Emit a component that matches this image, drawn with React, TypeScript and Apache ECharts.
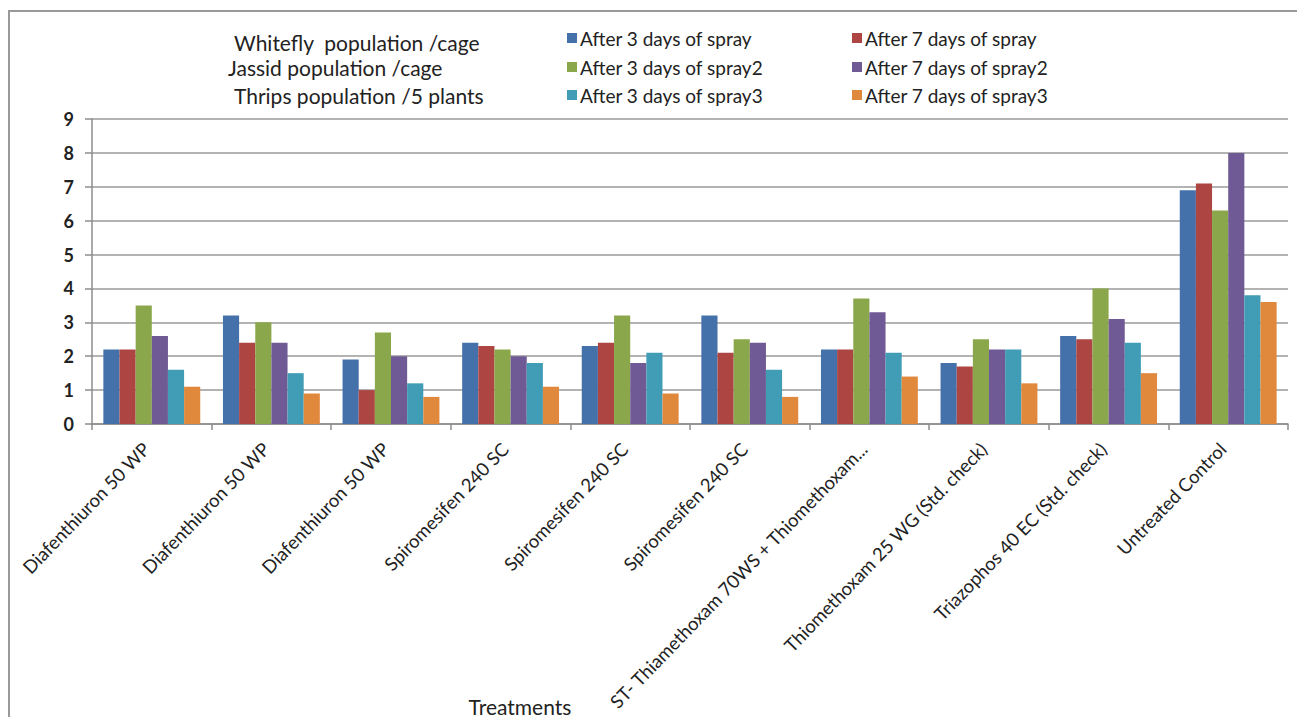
import React, { useEffect, useRef } from "react";
import * as echarts from "echarts";

const categories = [
  "Diafenthiuron 50 WP",
  "Diafenthiuron 50 WP",
  "Diafenthiuron 50 WP",
  "Spiromesifen 240 SC",
  "Spiromesifen 240 SC",
  "Spiromesifen 240 SC",
  "ST- Thiamethoxam 70WS + Thiomethoxam...",
  "Thiomethoxam 25 WG (Std. check)",
  "Triazophos 40 EC (Std. check)",
  "Untreated Control",
];

const seriesNames = [
  "After 3 days of spray",
  "After 7 days of spray",
  "After 3 days of spray2",
  "After 7 days of spray2",
  "After 3 days of spray3",
  "After 7 days of spray3",
];

const whitefly3 = [2.2, 3.2, 1.9, 2.4, 2.3, 3.2, 2.2, 1.8, 2.6, 6.9];
const whitefly7 = [2.2, 2.4, 1.0, 2.3, 2.4, 2.1, 2.2, 1.7, 2.5, 7.1];
const jassid3 = [3.5, 3.0, 2.7, 2.2, 3.2, 2.5, 3.7, 2.5, 4.0, 6.3];
const jassid7 = [2.6, 2.4, 2.0, 2.0, 1.8, 2.4, 3.3, 2.2, 3.1, 8.0];
const thrips3 = [1.6, 1.5, 1.2, 1.8, 2.1, 1.6, 2.1, 2.2, 2.4, 3.8];
const thrips7 = [1.1, 0.9, 0.8, 1.1, 0.9, 0.8, 1.4, 1.2, 1.5, 3.6];

const rowLabels = [
  "Whitefly  population /cage",
  "Jassid population /cage",
  "Thrips population /5 plants",
];

const colors = ["#4471A9", "#AD4543", "#8BA74C", "#705A95", "#409DB5", "#E0893D"];

export default function App() {
  const ref = useRef<HTMLDivElement>(null);
  useEffect(() => {
    if (!ref.current) return;
    const chart = echarts.init(ref.current, undefined, { renderer: "svg" });
    const values = [whitefly3, whitefly7, jassid3, jassid7, thrips3, thrips7];
    const font = "Lato";
    const legendPos = [
      { left: 567, top: 28 },
      { left: 852, top: 28 },
      { left: 567, top: 57 },
      { left: 852, top: 57 },
      { left: 567, top: 85 },
      { left: 852, top: 85 },
    ];
    const rowY = [42, 67, 95];
    const rowX = [234, 228, 234];
    chart.setOption({
      animation: false,
      color: colors,
      textStyle: { fontFamily: font },
      grid: {
        left: 92,
        right: 9,
        top: 119,
        bottom: 293,
        containLabel: false,
        outerBoundsMode: "none",
      },
      legend: seriesNames.map((n, i) => ({
        data: [n],
        left: legendPos[i].left,
        top: legendPos[i].top,
        itemWidth: 10,
        itemHeight: 10,
        itemGap: 4,
        icon: "rect",
        padding: 0,
        selectedMode: false,
        textStyle: { fontFamily: font, fontSize: 19, lineHeight: 20, color: "#222", padding: [0, 0, 0, -2] },
      })),
      graphic: [
        {
          type: "rect",
          shape: { x: 9, y: 11, width: 1400, height: 800 },
          style: { fill: "none", stroke: "#999", lineWidth: 2 },
          silent: true,
        },
        ...rowLabels.map((t, i) => ({
          type: "text",
          x: rowX[i],
          y: rowY[i],
          style: {
            text: t,
            fontFamily: font,
            fontSize: 21,
            fill: "#222",
            textVerticalAlign: "middle",
            verticalAlign: "middle",
          },
        })),
        {
          type: "text",
          x: 520,
          y: 706,
          style: {
            text: "Treatments",
            fontFamily: font,
            fontSize: 21,
            fill: "#222",
            align: "center",
            textAlign: "center",
            verticalAlign: "middle",
            textVerticalAlign: "middle",
          },
        },
      ],
      xAxis: {
        type: "category",
        data: categories,
        boundaryGap: true,
        axisLine: { show: true, lineStyle: { color: "#8c8c8c", width: 1.5 } },
        axisTick: { show: true, alignWithLabel: false, length: 6, lineStyle: { color: "#8c8c8c", width: 1.5 } },
        axisLabel: {
          interval: 0,
          rotate: 46,
          margin: 16,
          padding: [0, 8, 0, 0],
          fontFamily: font,
          fontSize: 18.5,
          color: "#222",
        },
      },
      yAxis: {
        type: "value",
        min: 0,
        max: 9,
        interval: 1,
        axisLine: { show: true, lineStyle: { color: "#8c8c8c", width: 1.5 } },
        axisTick: { show: true, length: 7, lineStyle: { color: "#8c8c8c", width: 1.5 } },
        axisLabel: { fontFamily: font, fontSize: 18, color: "#222", margin: 18, fontWeight: "bold" },
        splitLine: { show: true, lineStyle: { color: "#9a9a9a", width: 1.5 } },
      },
      series: seriesNames.map((n, i) => ({
        name: n,
        type: "bar",
        data: values[i],
        barGap: "0%",
        barCategoryGap: "19%",
        itemStyle: { color: colors[i] },
      })),
    });
    return () => chart.dispose();
  }, []);
  return <div ref={ref} style={{ width: 1297, height: 717, position: "absolute", left: 0, top: 0 }} />;
}
